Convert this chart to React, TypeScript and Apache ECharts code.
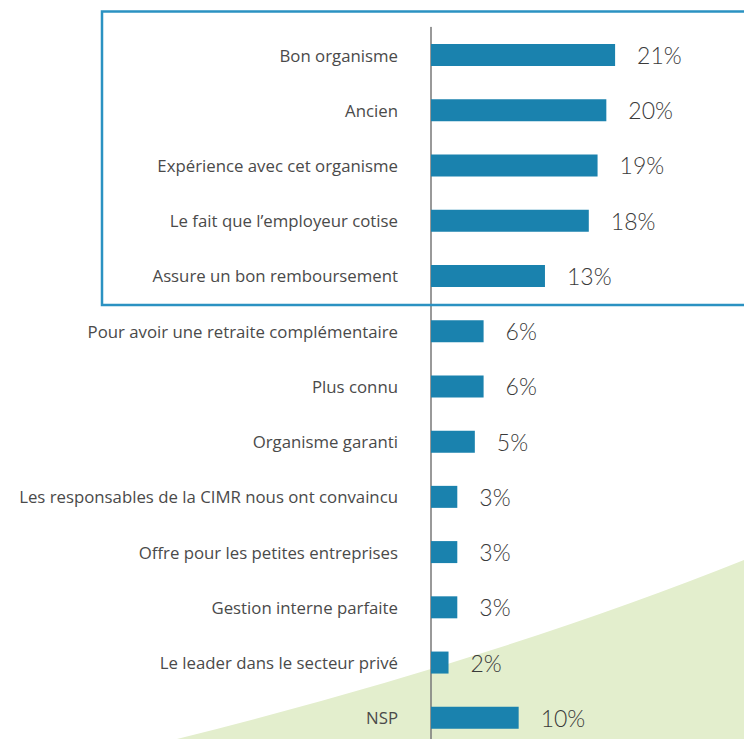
import React, { useEffect, useRef } from "react";
import * as echarts from "echarts";

const categories = [
  "Bon organisme",
  "Ancien",
  "Expérience avec cet organisme",
  "Le fait que l’employeur cotise",
  "Assure un bon remboursement",
  "Pour avoir une retraite complémentaire",
  "Plus connu",
  "Organisme garanti",
  "Les responsables de la CIMR nous ont convaincu",
  "Offre pour les petites entreprises",
  "Gestion interne parfaite",
  "Le leader dans le secteur privé",
  "NSP",
];
const values = [21, 20, 19, 18, 13, 6, 6, 5, 3, 3, 3, 2, 10];

echarts.graphic.registerShape(
  "greenWave",
  echarts.graphic.extendPath("M177 739 Q 495.7 659.3 744 560 L 744 760 L 177 760 Z", {})
);

export default function App() {
  const ref = useRef<HTMLDivElement>(null);
  useEffect(() => {
    const chart = echarts.init(ref.current!, null, { renderer: "svg" });
    chart.setOption({
      animation: false,
      backgroundColor: "#ffffff",
      graphic: [
        {
          type: "greenWave",
          z: -10,
          silent: true,
          style: { fill: "#e3eecd" },
        },
        {
          type: "rect",
          z: 10,
          silent: true,
          shape: { x: 102, y: 11.5, width: 700, height: 293.5 },
          style: { fill: "none", stroke: "#2b92c2", lineWidth: 2.5 },
        },
      ],
      grid: { left: 431, width: 263, top: 27.4, height: 718, containLabel: false },
      xAxis: {
        type: "value",
        min: 0,
        max: 30,
        show: false,
      },
      yAxis: {
        type: "category",
        inverse: true,
        data: categories,
        axisLine: { show: true, lineStyle: { color: "#777777", width: 1.5 } },
        axisTick: { show: false },
        axisLabel: {
          margin: 33,
          fontSize: 16.8,
          color: "#4a4a4a",
          fontFamily: "'Open Sans', sans-serif",
        },
      },
      series: [
        {
          type: "bar",
          data: values,
          barWidth: 22,
          itemStyle: { color: "#1a82ae" },
          label: {
            show: true,
            position: "right",
            distance: 22,
            formatter: "{c}%",
            fontSize: 23,
            fontWeight: 300,
            color: "#3a3a3a",
            fontFamily: "Lato, 'Open Sans', sans-serif",
          },
        },
      ],
    });
    return () => chart.dispose();
  }, []);
  return (
    <div style={{ position: "fixed", left: 0, top: 0, width: 744, height: 739, overflow: "hidden" }}>
      <div ref={ref} style={{ width: 744, height: 746 }} />
    </div>
  );
}
